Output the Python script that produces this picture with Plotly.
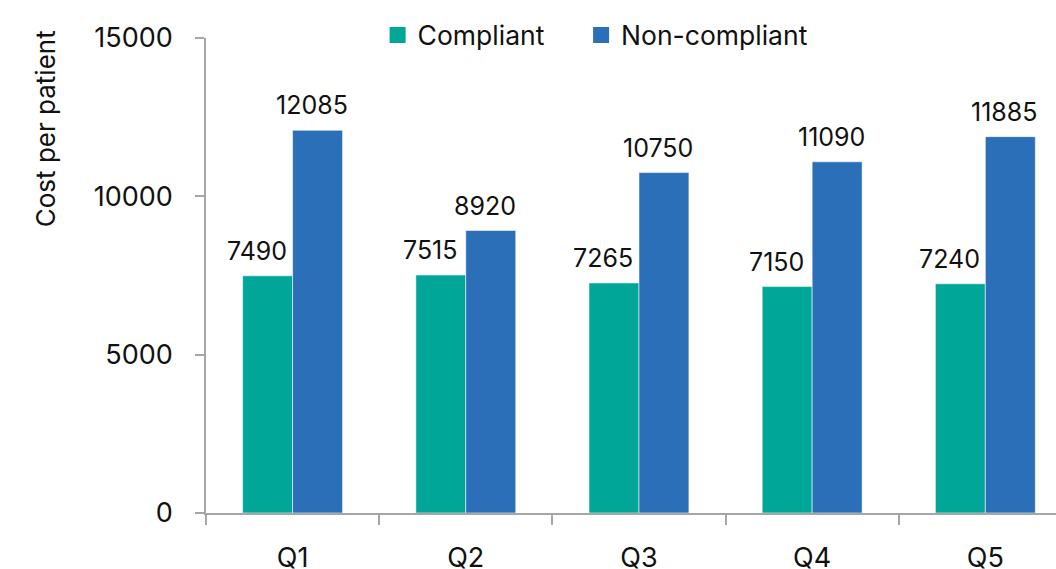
import plotly.graph_objects as go

categories = ["Q1", "Q2", "Q3", "Q4", "Q5"]
compliant = [7490, 7515, 7265, 7150, 7240]
non_compliant = [12085, 8920, 10750, 11090, 11885]
series_names = ["Compliant", "Non-compliant"]
colors = ["#00A697", "#2A6FB7"]
y_ticks = [0, 5000, 10000, 15000]
y_title = "Cost per patient"

FONT = "Inter"
TXT = "#111111"
fig = go.Figure()
for name, vals, col in zip(series_names, [compliant, non_compliant], colors):
    fig.add_trace(go.Bar(
        x=categories, y=vals, name=name, showlegend=False,
        marker=dict(color=col, line=dict(color="rgba(255,255,255,0.55)", width=1)),
    ))
# legend entries with larger square swatches, each in its own legend box
for name, col, lg in zip(series_names, colors, ["legend", "legend2"]):
    fig.add_trace(go.Scatter(
        x=[None], y=[None], mode="markers", name=name, legend=lg,
        marker=dict(symbol="square", size=18, color=col),
    ))

annotations = []
for vals, xs in [(compliant, -36), (non_compliant, 19)]:
    for c, v in zip(categories, vals):
        annotations.append(dict(
            x=c, y=v, xref="x", yref="y", text=str(v), showarrow=False,
            xshift=xs, yshift=8, yanchor="bottom",
            font=dict(family=FONT, size=25, color=TXT),
        ))
annotations.append(dict(
    x=-0.1894, y=0.808, xref="paper", yref="paper", text=y_title,
    showarrow=False, textangle=-90, xanchor="center", yanchor="middle",
    font=dict(family=FONT, size=26, color=TXT),
))

legend_style = dict(orientation="h", xanchor="left", y=1.006, yanchor="middle",
                    font=dict(family=FONT, size=26.5, color=TXT),
                    itemsizing="trace", bgcolor="rgba(0,0,0,0)")

fig.update_layout(
    width=1056, height=569,
    margin=dict(l=206, r=0, t=38, b=56, autoexpand=False),
    paper_bgcolor="white", plot_bgcolor="white",
    barmode="group", bargap=0.423, bargroupgap=0,
    font=dict(family=FONT, size=24, color=TXT),
    showlegend=True,
    legend=dict(x=0.2019, **legend_style),
    legend2=dict(x=0.4413, **legend_style),
    annotations=annotations,
    xaxis=dict(
        type="category", range=[-0.5, 4.408], tickson="boundaries",
        ticks="outside", ticklen=10, tickwidth=1.5, tickcolor="#A6A6A6",
        showline=True, linecolor="#A6A6A6", linewidth=1.5,
        ticklabelstandoff=20, automargin=False,
        showgrid=False, tickfont=dict(family=FONT, size=27, color=TXT),
    ),
    yaxis=dict(
        range=[0, 15000], tickvals=y_ticks, ticktext=[str(t) for t in y_ticks],
        ticks="outside", ticklen=9, ticklabelstandoff=17, automargin=False,
        tickwidth=1.5, tickcolor="#A6A6A6",
        showline=True, linecolor="#A6A6A6", linewidth=1.5,
        showgrid=False, zeroline=False,
        tickfont=dict(family=FONT, size=27, color=TXT),
    ),
)

fig.write_html(
    "out.html",
    config={"displayModeBar": False},
    post_script="document.body.style.margin='0';document.body.style.overflow='hidden';",
)
